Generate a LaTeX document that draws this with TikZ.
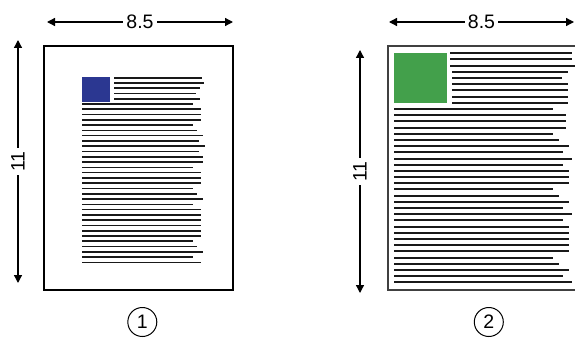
\documentclass[tikz,border=0pt]{standalone}
\usepackage{fontspec}
\setmainfont{Liberation Sans}
\usetikzlibrary{arrows.meta}
\definecolor{squareblue}{RGB}{43,55,145}
\definecolor{squaregreen}{RGB}{67,160,75}
\definecolor{textgray}{RGB}{25,25,25}
\tikzset{
  dimarrow/.style={line width=1.3pt,{Triangle[length=8pt,width=8pt]}-{Triangle[length=8pt,width=8pt]}},
  dimlabel/.style={fill=white,inner sep=3pt,font=\fontsize{19.5}{20}\selectfont},
  numcircle/.style={draw,circle,line width=1pt,minimum size=29pt,inner sep=0pt,font=\fontsize{19.5}{20}\selectfont},
  textline/.style={textgray,line width=1.6pt},
  textlinewide/.style={textgray,line width=2pt}
}

\begin{document}
\begin{tikzpicture}[x=1pt,y=-1pt]
\clip (0,0) rectangle (575,337);
% page 1: letter size, wide margins
\draw[line width=1.2pt] (44,46) rectangle (233,290);
\fill[squareblue] (82,77) rectangle (110,102);
\foreach \e [count=\i from 0] in {202,204,200,196,200}
  \draw[textline] (114,{77.7+\i*5.25}) -- (\e,{77.7+\i*5.25});
\foreach \e [count=\i from 0] in {192.7,201,201,201,192.7,197,203.3,199,205.3,199,203.3,203.3,192.7,201,201,201,192.7,197,203.3,192.7,201,201,201,201,201,201,192.7,197,203.3,192.7,201}
  \draw[textline] (82,{104+\i*5.28}) -- (\e,{104+\i*5.28});
% dimensions of page 1
\coordinate (w1a) at (47,22);
\coordinate (w1b) at (233,22);
\coordinate (h1a) at (18,40);
\coordinate (h1b) at (18,283);
\draw[dimarrow] (w1a) -- node[dimlabel] (w1lab) {8.5} (w1b);
\draw[dimarrow] (h1a) -- node[dimlabel,rotate=90] (h1lab) {11} (h1b);
\node[numcircle] (n1) at (142.3,322) {1};

% page 2: same size, content scaled up to the edges
\draw[black!75,line width=2pt] (388,46) rectangle (590,290);
\fill[squaregreen] (394,53) rectangle (447,103);
\foreach \s/\e [count=\i from 0] in {450/571.7,450/571.7,450/580,452/568.3,452/561.7,452/568.3,452/568.3,452/568.3,452/568.3}
  \draw[textlinewide] (\s,{53.3+\i*6.18}) -- (\e,{53.3+\i*6.18});
\foreach \e [count=\i from 0] in {553.3,565.7,565.7,565.7,553.3,559.3,568.7,562.7,571.7,562.7,568.7,568.7,568.7,553.3,559.3,568.7,562.7,571.7,562.7,568.7,568.7,568.7,568.7,568.7,553.3,559.3,568.7,562.7,571.7}
  \draw[textlinewide] (394,{109+\i*6.19}) -- (\e,{109+\i*6.19});
% dimensions of page 2
\coordinate (w2a) at (389,22);
\coordinate (w2b) at (574,22);
\coordinate (h2a) at (360,50);
\coordinate (h2b) at (360,293);
\draw[dimarrow] (w2a) -- node[dimlabel] (w2lab) {8.5} (w2b);
\draw[dimarrow] (h2a) -- node[dimlabel,rotate=90] (h2lab) {11} (h2b);
\node[numcircle] (n2) at (488.8,322) {2};
\end{tikzpicture}
\end{document}
